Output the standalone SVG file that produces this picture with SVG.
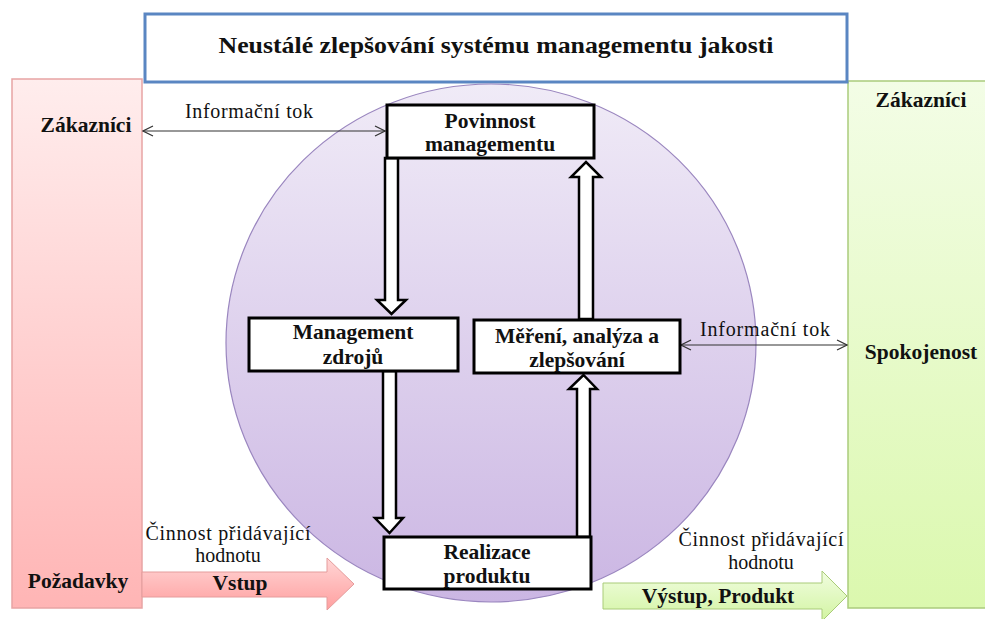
<svg xmlns="http://www.w3.org/2000/svg" width="985" height="619" viewBox="0 0 985 619" font-family="'Liberation Serif', 'DejaVu Serif', 'Times New Roman', serif">
  <defs>
    <linearGradient id="gPink" x1="0" y1="0" x2="0" y2="1">
      <stop offset="0" stop-color="#FFEDED"/>
      <stop offset="1" stop-color="#FFB5B5"/>
    </linearGradient>
    <linearGradient id="gGreen" x1="0" y1="0" x2="0" y2="1">
      <stop offset="0" stop-color="#F3FDE6"/>
      <stop offset="1" stop-color="#DBF8AE"/>
    </linearGradient>
    <linearGradient id="gCircle" x1="0" y1="0" x2="0" y2="1">
      <stop offset="0" stop-color="#F0EBF7"/>
      <stop offset="1" stop-color="#CBB6E3"/>
    </linearGradient>
    <linearGradient id="gPinkArrow" x1="0" y1="0" x2="0" y2="1">
      <stop offset="0" stop-color="#FFD6D6"/>
      <stop offset="1" stop-color="#FF9F9F"/>
    </linearGradient>
    <linearGradient id="gGreenArrow" x1="0" y1="0" x2="0" y2="1">
      <stop offset="0" stop-color="#F1FDE0"/>
      <stop offset="1" stop-color="#D2F4A2"/>
    </linearGradient>
    <marker id="chev" viewBox="0 0 12 12" refX="11" refY="6" markerWidth="12" markerHeight="12" markerUnits="userSpaceOnUse" orient="auto-start-reverse">
      <path d="M1,1 L11,6 L1,11" fill="none" stroke="#333" stroke-width="1.2"/>
    </marker>
  </defs>
  <style>
    text { font-family: "Liberation Serif", "DejaVu Serif", "Times New Roman", serif; fill: #111; }
    .b { font-weight: bold; font-size: 21.5px; }
    .n { font-size: 20px; }
    .box { fill: #fff; stroke: #000; stroke-width: 3; }
    .blk { fill: #fff; stroke: #000; stroke-width: 2.5; stroke-linejoin: miter; }
    .thin { fill: none; stroke: #333; stroke-width: 1.2; }
  </style>

  <rect width="985" height="619" fill="#fff"/>

  <!-- side columns -->
  <g id="customers-left">
    <rect x="12" y="79" width="130" height="529" fill="url(#gPink)" stroke="#E8A4A4" stroke-width="1.5"/>
    <text class="b" x="86" y="132" text-anchor="middle">Zákazníci</text>
    <text class="b" x="78" y="588" text-anchor="middle">Požadavky</text>
  </g>
  <g id="customers-right">
    <rect x="848" y="81" width="140" height="527" fill="url(#gGreen)" stroke="#ABCB7C" stroke-width="1.5"/>
    <text class="b" x="921" y="107" text-anchor="middle">Zákazníci</text>
    <text class="b" x="921" y="359" text-anchor="middle">Spokojenost</text>
  </g>

  <!-- title -->
  <g id="title">
    <rect x="145" y="14" width="702" height="68" fill="#fff" stroke="#5A86C2" stroke-width="3"/>
    <text x="496" y="53" text-anchor="middle" font-weight="bold" font-size="24" textLength="555" lengthAdjust="spacingAndGlyphs">Neustálé zlepšování systému managementu jakosti</text>
  </g>

  <!-- process circle -->
  <ellipse id="process-circle" cx="491" cy="343" rx="265" ry="259" fill="url(#gCircle)" stroke="#9A86BF" stroke-width="1.2"/>

  <!-- connectors -->
  <g id="connectors">
    <line class="thin" x1="143" y1="131" x2="385" y2="131" marker-start="url(#chev)" marker-end="url(#chev)"/>
    <line class="thin" x1="681" y1="345" x2="847" y2="345" marker-start="url(#chev)" marker-end="url(#chev)"/>
    <!-- hollow block arrows -->
    <path class="blk" d="M385,158 L398,158 L398,300 L406,300 L391.5,314 L377,300 L385,300 Z"/>
    <path class="blk" d="M383,371 L396,371 L396,518 L403,518 L389.5,533 L375,518 L383,518 Z"/>
    <path class="blk" d="M577,537 L590,537 L590,389 L597,389 L583.5,375 L569,389 L577,389 Z"/>
    <path class="blk" d="M579,319 L593,319 L593,177 L601,177 L586,162 L571,177 L579,177 Z"/>
    <!-- input / output arrows -->
    <path d="M142,572 L327,572 L327,558 L354,584 L327,610 L327,597 L142,597 Z" fill="url(#gPinkArrow)" stroke="#E59C9C" stroke-width="1"/>
    <path d="M603,583 L822,583 L822,571 L847,596 L822,621 L822,609 L603,609 Z" fill="url(#gGreenArrow)" stroke="#A9CB78" stroke-width="1"/>
  </g>

  <!-- connector labels -->
  <g id="labels">
    <text class="n" x="249" y="118" text-anchor="middle" textLength="128">Informační tok</text>
    <text class="n" x="765" y="336" text-anchor="middle" textLength="130">Informační tok</text>
    <text class="n" x="228" y="540" text-anchor="middle" textLength="165">Činnost přidávající</text>
    <text class="n" x="228" y="562" text-anchor="middle">hodnotu</text>
    <text class="b" x="240" y="590" text-anchor="middle">Vstup</text>
    <text class="n" x="761" y="546" text-anchor="middle" textLength="165">Činnost přidávající</text>
    <text class="n" x="761" y="569" text-anchor="middle">hodnotu</text>
    <text class="b" x="718" y="603" text-anchor="middle">Výstup, Produkt</text>
  </g>

  <!-- process nodes -->
  <g id="node-povinnost">
    <rect class="box" x="387" y="105" width="207" height="53"/>
    <text class="b" x="490" y="128" text-anchor="middle">Povinnost</text>
    <text class="b" x="490" y="151" text-anchor="middle">managementu</text>
  </g>
  <g id="node-zdroje">
    <rect class="box" x="249" y="318" width="209" height="53"/>
    <text class="b" x="353" y="339" text-anchor="middle">Management</text>
    <text class="b" x="353" y="364" text-anchor="middle">zdrojů</text>
  </g>
  <g id="node-mereni">
    <rect class="box" x="474" y="320" width="206" height="53"/>
    <text class="b" x="577" y="343" text-anchor="middle">Měření, analýza a</text>
    <text class="b" x="577" y="367" text-anchor="middle">zlepšování</text>
  </g>
  <g id="node-realizace">
    <rect class="box" x="384" y="537" width="207" height="52"/>
    <text class="b" x="487" y="559" text-anchor="middle">Realizace</text>
    <text class="b" x="487" y="583" text-anchor="middle">produktu</text>
  </g>
</svg>
